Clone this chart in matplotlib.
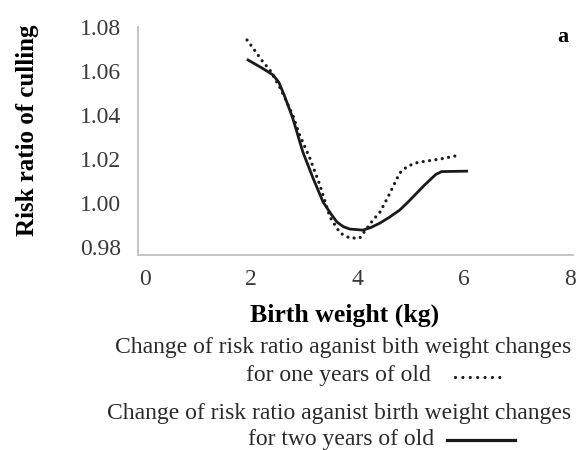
import matplotlib
matplotlib.use('Agg')
import matplotlib.pyplot as plt
from matplotlib.lines import Line2D

plt.rcParams['font.family'] = ['Liberation Serif', 'DejaVu Serif']

# one year of old (dotted)
x_one = [1.92, 2.03, 2.22, 2.35, 2.55, 2.78, 2.91, 3.10, 3.29, 3.48, 3.67,
         3.85, 4.04, 4.29, 4.42, 4.57, 4.79, 4.92, 5.08, 5.30, 5.55, 5.92]
y_one = [1.0741, 1.0705, 1.0641, 1.0605, 1.0520, 1.0400, 1.0309, 1.0205,
         1.0082, 0.9936, 0.9864, 0.9841, 0.9841, 0.9923, 0.9959, 1.0027,
         1.0136, 1.0164, 1.0182, 1.0191, 1.0200, 1.0218]

# two years of old (solid)
x_two = [1.94, 2.20, 2.41, 2.52, 2.62, 2.78, 2.97, 3.16, 3.35, 3.50, 3.61,
         3.73, 3.85, 4.10, 4.25, 4.42, 4.60, 4.79, 4.95, 5.11, 5.25, 5.36,
         5.47, 5.58, 6.05]
y_two = [1.0650, 1.0614, 1.0582, 1.0548, 1.0490, 1.0386, 1.0232, 1.0114,
         1.0005, 0.9950, 0.9914, 0.9893, 0.9882, 0.9877, 0.9889, 0.9909,
         0.9936, 0.9968, 1.0005, 1.0045, 1.0080, 1.0105, 1.0130, 1.0143,
         1.0145]

xticks = [0, 2, 4, 6, 8]
yticks = [0.98, 1.00, 1.02, 1.04, 1.06, 1.08]

label_one = 'Change of risk ratio aganist bith weight changes'
label_two = 'Change of risk ratio aganist birth weight changes'
sub_one = 'for one years of old'
sub_two = 'for two years of old'

W, H = 579, 450
fig = plt.figure(figsize=(W / 100, H / 100), dpi=100)
ax = fig.add_axes([138 / W, 1 - 255 / H, 435 / W, 228 / H])

ax.plot(x_one, y_one, color='#1a1a1a', lw=2.3, ls=(0, (0.01, 2.0)),
        dash_capstyle='round')
ax.plot(x_two, y_two, color='#1a1a1a', lw=2.0)

ax.set_xlim(-0.13, 8.05)
ax.set_ylim(0.9764, 1.08)
ax.set_xticks(xticks)
ax.set_yticks(yticks)
ax.set_yticklabels([f'{v:.2f}' for v in yticks])
ax.tick_params(length=0, labelsize=17, colors='#3a3a3a')
ax.tick_params(axis='y', pad=12)
ax.tick_params(axis='x', pad=10)

for s in ('top', 'right'):
    ax.spines[s].set_visible(False)
for s in ('left', 'bottom'):
    ax.spines[s].set_color('#c0c0c0')
    ax.spines[s].set_linewidth(1.3)

ax.set_xlabel('Birth weight (kg)', fontsize=18.5, fontweight='bold')
ax.set_ylabel('Risk ratio of culling', fontsize=18, fontweight='bold')
ax.xaxis.set_label_coords(0.476, -0.263)
ax.yaxis.set_label_coords(-0.255, 0.548)
ax.xaxis.label.set_va('center')
ax.yaxis.label.set_va('center')

fig.text(563 / W, 1 - 37 / H, 'a', fontsize=16, fontweight='bold',
         ha='center', va='center')

# legend block
fc = '#2a2a2a'
fig.text(343 / W, 1 - 347 / H, label_one, fontsize=17, color=fc,
         ha='center', va='center')
fig.text(431 / W, 1 - 375 / H, sub_one, fontsize=17, color=fc,
         ha='right', va='center')
fig.text(339 / W, 1 - 413 / H, label_two, fontsize=17, color=fc,
         ha='center', va='center')
fig.text(434 / W, 1 - 440 / H, sub_two, fontsize=17, color=fc,
         ha='right', va='center')

fig.add_artist(Line2D([455 / W, 503 / W], [1 - 377 / H, 1 - 377 / H],
                      transform=fig.transFigure, color='#1a1a1a', lw=2.3,
                      ls=(0, (0.01, 2.3)), dash_capstyle='round'))
fig.add_artist(Line2D([447 / W, 515 / W], [1 - 440 / H, 1 - 440 / H],
                      transform=fig.transFigure, color='#1a1a1a', lw=2.3))

fig.savefig('out.png', dpi=100)
plt.close()
